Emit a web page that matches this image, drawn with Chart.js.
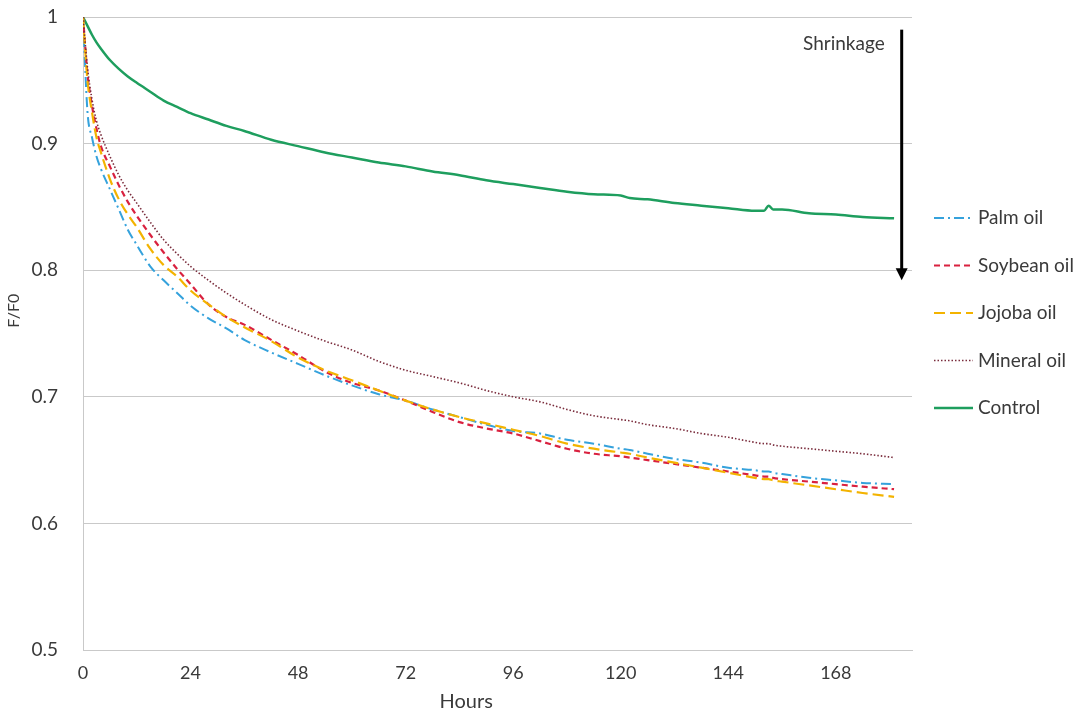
<!DOCTYPE html>
<html><head><meta charset="utf-8">
<script src="https://cdn.jsdelivr.net/npm/chart.js@4.4.1/dist/chart.umd.min.js"></script>
<style>html,body{margin:0;padding:0;background:#fff;}#wrap{width:1080px;height:713px;position:relative;}</style>
</head><body><div id="wrap"><canvas id="c" width="1080" height="713"></canvas></div>
<script>
// ---- data ----
const hours = [0, 1, 2, 3, 4, 6, 8, 10, 12, 15, 18, 21, 24, 28, 32, 36, 42, 48, 54, 60, 66, 72, 78, 84, 90, 96, 102, 108, 114, 120, 122, 126, 132, 138, 144, 150, 152, 153, 154, 156, 162, 168, 174, 181];
const palmOil = [1.000, .925, .905, .890, .880, .864, .848, .832, .820, .803, .792, .782, .772, .762, .754, .745, .735, .726, .717, .709, .702, .697, .690, .684, .678, .673, .671, .666, .663, .659, .658, .655, .651, .648, .644, .642, .641, .641, .640, .639, .636, .634, .632, .631];
const soybeanOil = [1.000, .955, .930, .912, .898, .882, .867, .854, .843, .828, .814, .801, .789, .773, .763, .757, .745, .733, .720, .711, .705, .697, .688, .680, .675, .671, .665, .659, .655, .653, .652, .650, .647, .644, .641, .638, .637, .637, .636, .635, .633, .631, .629, .627];
const jojobaOil = [1.000, .950, .925, .905, .893, .872, .856, .844, .834, .817, .804, .795, .784, .773, .763, .755, .744, .731, .721, .713, .705, .697, .690, .684, .679, .674, .669, .663, .659, .656, .655, .652, .648, .644, .640, .636, .635, .635, .634, .633, .630, .627, .624, .621];
const mineralOil = [1.000, .960, .935, .918, .907, .890, .875, .863, .853, .838, .824, .813, .803, .792, .782, .773, .761, .752, .744, .737, .728, .721, .716, .711, .705, .700, .696, .690, .685, .682, .681, .678, .675, .671, .668, .664, .663, .663, .662, .661, .659, .657, .655, .652];
const control = [1.000, .993, .986, .980, .975, .966, .959, .953, .948, .941, .934, .929, .924, .919, .914, .910, .903, .898, .893, .889, .885, .882, .878, .875, .871, .868, .865, .862, .860, .859, .857, .856, .853, .851, .849, .847, .847, .851, .848, .848, .845, .844, .842, .841];
const seriesNames = ['Palm oil', 'Soybean oil', 'Jojoba oil', 'Mineral oil', 'Control'];
const xTickValues = [0, 24, 48, 72, 96, 120, 144, 168];
const yTickValues = [0.5, 0.6, 0.7, 0.8, 0.9, 1];
const axisTitles = { x: 'Hours', y: 'F/F0' };
const annotationText = 'Shrinkage';

const FONT = 'Lato, "Open Sans", "DejaVu Sans", sans-serif';
const TXT = '#3a3a3a';
const GRID = '#c9c9c9';

function pts(vals) { return hours.map((h, i) => ({ x: h, y: vals[i] })); }

const styles = [
  { color: '#35a2dc', width: 2, dash: [10, 4, 2, 4] },
  { color: '#d9213f', width: 2.2, dash: [6, 4] },
  { color: '#f3b300', width: 2.2, dash: [11, 5] },
  { color: '#7a2c3c', width: 1.6, dash: [1.5, 2] },
  { color: '#1e9e5e', width: 2.5, dash: [] }
];
const seriesValues = [palmOil, soybeanOil, jojobaOil, mineralOil, control];

const datasets = seriesNames.map((name, i) => ({
  label: name,
  data: pts(seriesValues[i]),
  borderColor: styles[i].color,
  backgroundColor: styles[i].color,
  borderWidth: styles[i].width,
  borderDash: styles[i].dash,
  pointRadius: 0,
  fill: false,
  cubicInterpolationMode: 'monotone',
  order: i === 4 ? 5 : 4 - i
}));

const sideLegend = {
  id: 'sideLegend',
  afterDraw(chart) {
    const ctx = chart.ctx, ca = chart.chartArea;
    ctx.save();
    ctx.font = '19px ' + FONT;
    ctx.textBaseline = 'middle';
    ctx.textAlign = 'left';
    chart.data.datasets.forEach((ds, i) => {
      const y = ca.top + 201 + i * 47.5;
      ctx.beginPath();
      ctx.strokeStyle = ds.borderColor;
      ctx.lineWidth = ds.borderWidth;
      ctx.setLineDash(ds.borderDash || []);
      ctx.moveTo(ca.right + 22, y);
      ctx.lineTo(ca.right + 61, y);
      ctx.stroke();
      ctx.setLineDash([]);
      ctx.fillStyle = TXT;
      ctx.fillText(ds.label, ca.right + 66, y);
    });
    ctx.restore();
  }
};

const axisTitlesPlugin = {
  id: 'axisTitlesPlugin',
  afterDraw(chart) {
    const ctx = chart.ctx, xs = chart.scales.x, ys = chart.scales.y;
    ctx.save();
    ctx.fillStyle = TXT;
    ctx.textAlign = 'center'; ctx.textBaseline = 'middle';
    ctx.font = '20px ' + FONT;
    ctx.fillText(axisTitles.x, xs.getPixelForValue(85.5), xs.bottom - 11);
    ctx.translate(14, ys.getPixelForValue(0.768));
    ctx.rotate(-Math.PI / 2);
    ctx.font = '16px ' + FONT;
    ctx.fillText(axisTitles.y, 0, 0);
    ctx.restore();
  }
};

const arrowNote = {
  id: 'arrowNote',
  afterDatasetsDraw(chart) {
    const ctx = chart.ctx, xs = chart.scales.x, ys = chart.scales.y;
    const ax = xs.getPixelForValue(182.7);
    const yTop = ys.getPixelForValue(0.99), yTip = ys.getPixelForValue(0.792);
    ctx.save();
    ctx.strokeStyle = '#000'; ctx.fillStyle = '#000'; ctx.lineWidth = 3;
    ctx.beginPath(); ctx.moveTo(ax, yTop); ctx.lineTo(ax, yTip - 10); ctx.stroke();
    ctx.beginPath(); ctx.moveTo(ax - 6, yTip - 12); ctx.lineTo(ax + 6, yTip - 12); ctx.lineTo(ax, yTip); ctx.closePath(); ctx.fill();
    ctx.font = '19px ' + FONT; ctx.fillStyle = TXT; ctx.textAlign = 'right'; ctx.textBaseline = 'middle';
    ctx.fillText(annotationText, xs.getPixelForValue(178.9), ys.getPixelForValue(0.979));
    ctx.restore();
  }
};

new Chart(document.getElementById('c'), {
  type: 'line',
  data: { datasets },
  options: {
    responsive: false,
    animation: false,
    devicePixelRatio: 1,
    layout: { padding: { top: 17, right: 168, bottom: 0, left: 0 } },
    plugins: { legend: { display: false }, tooltip: { enabled: false } },
    scales: {
      x: {
        type: 'linear', min: 0, max: 185,
        afterFit(s) { s.height = 63; },
        afterBuildTicks(s) { s.ticks = xTickValues.map(v => ({ value: v })); },
        ticks: { font: { size: 18, family: FONT }, color: TXT, padding: 0, maxRotation: 0, autoSkip: false },
        grid: { display: false, drawTicks: true, tickLength: 12, tickColor: 'rgba(0,0,0,0)' },
        border: { display: true, color: GRID, width: 1 },
        title: { display: false }
      },
      y: {
        type: 'linear', min: 0.5, max: 1,
        afterFit(s) { s.width = 83; },
        afterBuildTicks(s) { s.ticks = yTickValues.map(v => ({ value: v })); },
        ticks: { font: { size: 19, family: FONT }, color: TXT, padding: 0, callback: v => String(+v.toFixed(1)) },
        grid: { color: GRID, lineWidth: 1, drawTicks: true, tickLength: 25, tickColor: 'rgba(0,0,0,0)' },
        border: { display: true, color: GRID, width: 1 },
        title: { display: false }
      }
    }
  },
  plugins: [arrowNote, sideLegend, axisTitlesPlugin]
});
</script></body></html>
